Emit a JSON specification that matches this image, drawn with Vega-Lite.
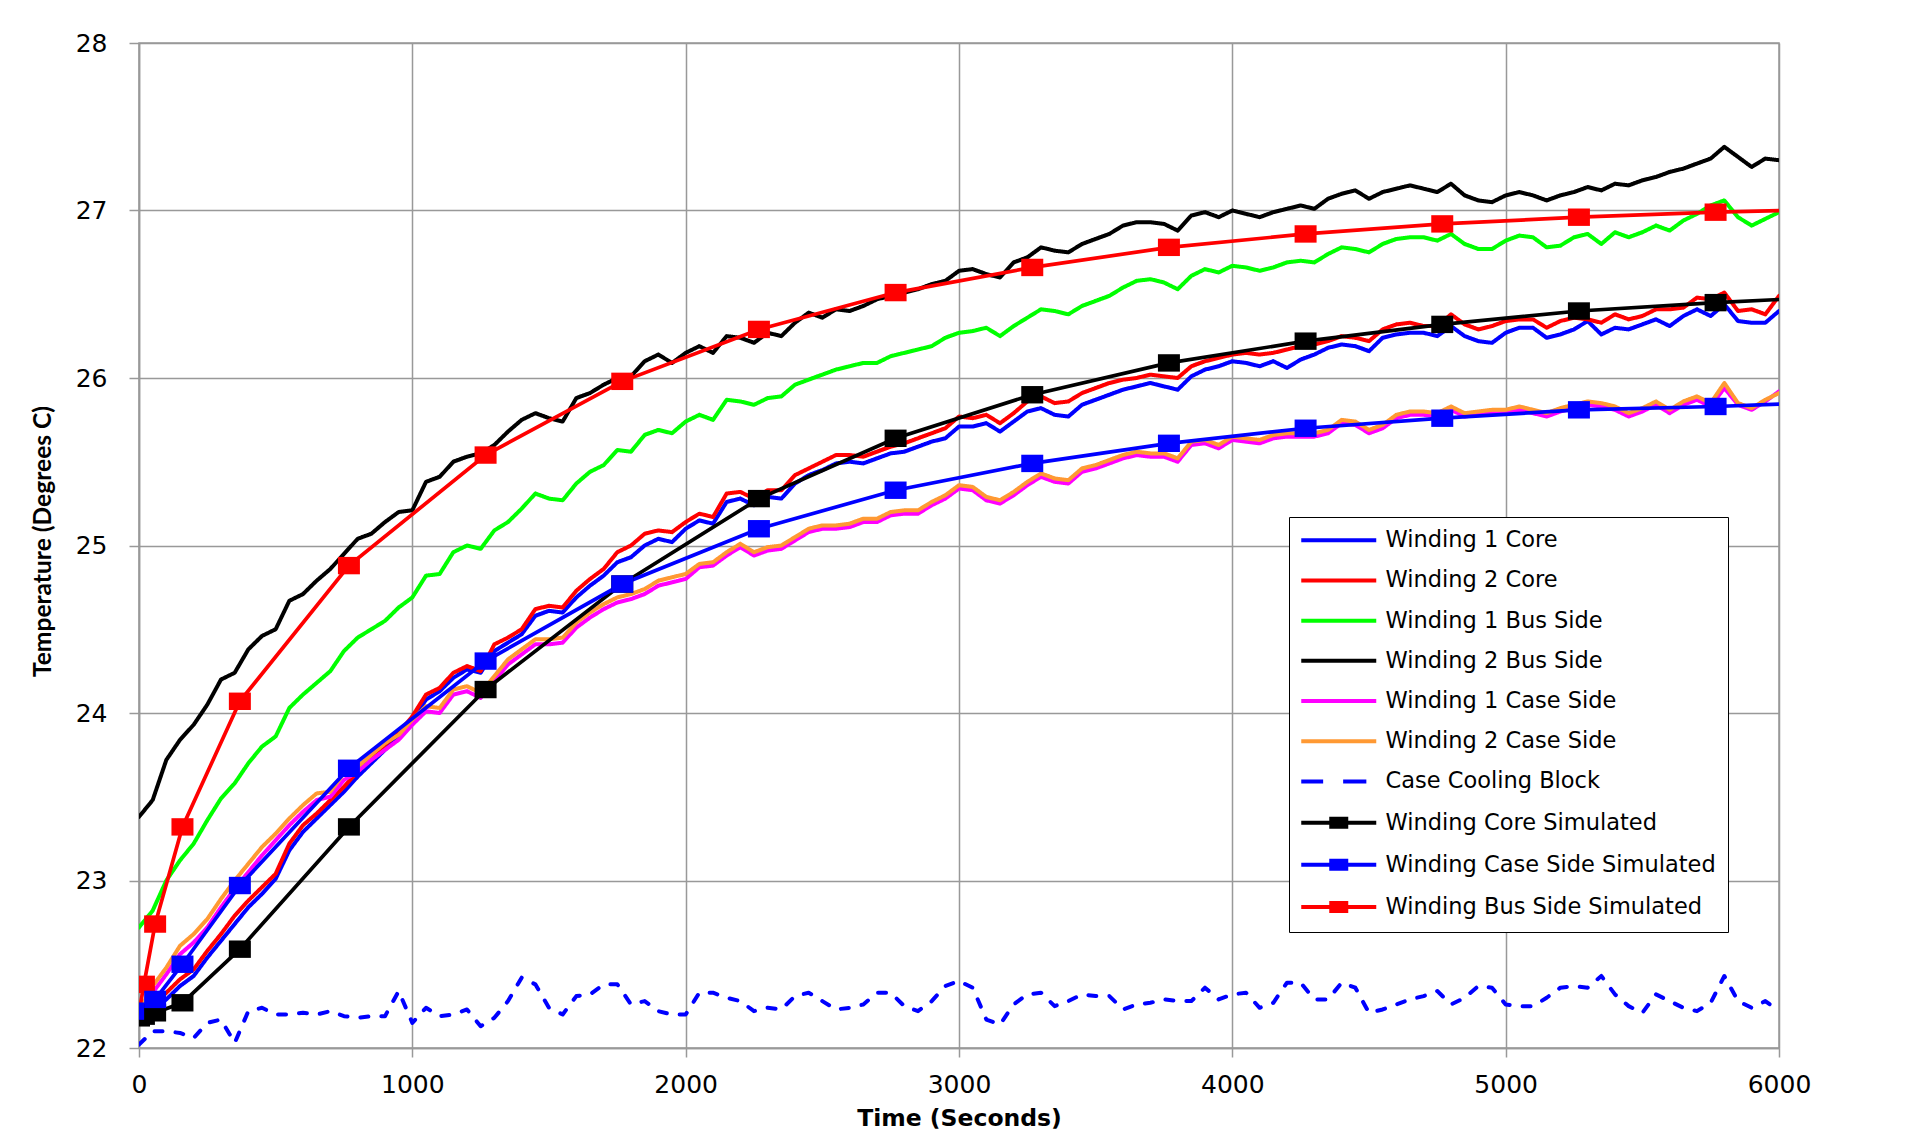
{
"$schema": "https://vega.github.io/schema/vega-lite/v6.json",
"width": 1640, "height": 1005,
"autosize": {"type": "none"},
"padding": {"left": 139, "top": 43, "right": 142, "bottom": 85},
"background": "#ffffff",
"config": {
  "view": {"stroke": "#999999", "strokeWidth": 1.5},
  "axis": {"gridColor": "#999999", "gridWidth": 1.5, "domainColor": "#999999", "domainWidth": 1.5, "tickColor": "#999999", "tickWidth": 1.5, "labelFont": "DejaVu Sans", "labelFontSize": 25, "labelColor": "#000000", "titleColor": "#000000", "labelFlush": false, "labelOverlap": false}
},
"datasets": {
"measured": [
{"t":0,"W1Core":22.20,"W2Core":22.22,"W1Bus":22.72,"W2Bus":23.38,"W1Case":22.20,"W2Case":22.22,"Cooling":22.02},
{"t":50,"W1Core":22.23,"W2Core":22.26,"W1Bus":22.82,"W2Bus":23.48,"W1Case":22.33,"W2Case":22.37,"Cooling":22.10},
{"t":100,"W1Core":22.29,"W2Core":22.33,"W1Bus":23.00,"W2Bus":23.72,"W1Case":22.44,"W2Case":22.48,"Cooling":22.10},
{"t":150,"W1Core":22.37,"W2Core":22.41,"W1Bus":23.12,"W2Bus":23.84,"W1Case":22.56,"W2Case":22.61,"Cooling":22.09},
{"t":200,"W1Core":22.43,"W2Core":22.47,"W1Bus":23.22,"W2Bus":23.93,"W1Case":22.63,"W2Case":22.68,"Cooling":22.06},
{"t":250,"W1Core":22.54,"W2Core":22.58,"W1Bus":23.36,"W2Bus":24.05,"W1Case":22.72,"W2Case":22.77,"Cooling":22.15},
{"t":300,"W1Core":22.64,"W2Core":22.68,"W1Bus":23.49,"W2Bus":24.20,"W1Case":22.84,"W2Case":22.89,"Cooling":22.17},
{"t":350,"W1Core":22.74,"W2Core":22.79,"W1Bus":23.58,"W2Bus":24.24,"W1Case":22.95,"W2Case":23.00,"Cooling":22.03},
{"t":400,"W1Core":22.84,"W2Core":22.88,"W1Bus":23.70,"W2Bus":24.38,"W1Case":23.05,"W2Case":23.10,"Cooling":22.22},
{"t":450,"W1Core":22.92,"W2Core":22.96,"W1Bus":23.80,"W2Bus":24.46,"W1Case":23.15,"W2Case":23.20,"Cooling":22.24},
{"t":500,"W1Core":23.01,"W2Core":23.04,"W1Bus":23.86,"W2Bus":24.50,"W1Case":23.24,"W2Case":23.28,"Cooling":22.20},
{"t":550,"W1Core":23.18,"W2Core":23.22,"W1Bus":24.03,"W2Bus":24.67,"W1Case":23.33,"W2Case":23.37,"Cooling":22.20},
{"t":600,"W1Core":23.29,"W2Core":23.33,"W1Bus":24.11,"W2Bus":24.71,"W1Case":23.41,"W2Case":23.45,"Cooling":22.21},
{"t":650,"W1Core":23.37,"W2Core":23.40,"W1Bus":24.18,"W2Bus":24.79,"W1Case":23.48,"W2Case":23.52,"Cooling":22.20},
{"t":700,"W1Core":23.45,"W2Core":23.48,"W1Bus":24.25,"W2Bus":24.86,"W1Case":23.50,"W2Case":23.53,"Cooling":22.22},
{"t":750,"W1Core":23.53,"W2Core":23.56,"W1Bus":24.37,"W2Bus":24.95,"W1Case":23.60,"W2Case":23.64,"Cooling":22.19},
{"t":800,"W1Core":23.62,"W2Core":23.65,"W1Bus":24.45,"W2Bus":25.04,"W1Case":23.65,"W2Case":23.68,"Cooling":22.18},
{"t":850,"W1Core":23.70,"W2Core":23.73,"W1Bus":24.50,"W2Bus":25.07,"W1Case":23.72,"W2Case":23.75,"Cooling":22.19},
{"t":900,"W1Core":23.78,"W2Core":23.81,"W1Bus":24.55,"W2Bus":25.14,"W1Case":23.78,"W2Case":23.82,"Cooling":22.19},
{"t":950,"W1Core":23.86,"W2Core":23.88,"W1Bus":24.63,"W2Bus":25.20,"W1Case":23.84,"W2Case":23.87,"Cooling":22.34},
{"t":1000,"W1Core":23.96,"W2Core":23.98,"W1Bus":24.69,"W2Bus":25.21,"W1Case":23.93,"W2Case":23.96,"Cooling":22.15},
{"t":1050,"W1Core":24.08,"W2Core":24.11,"W1Bus":24.82,"W2Bus":25.38,"W1Case":24.01,"W2Case":24.04,"Cooling":22.24},
{"t":1100,"W1Core":24.13,"W2Core":24.15,"W1Bus":24.83,"W2Bus":25.41,"W1Case":24.00,"W2Case":24.03,"Cooling":22.19},
{"t":1150,"W1Core":24.21,"W2Core":24.24,"W1Bus":24.96,"W2Bus":25.50,"W1Case":24.11,"W2Case":24.14,"Cooling":22.20},
{"t":1200,"W1Core":24.26,"W2Core":24.28,"W1Bus":25.00,"W2Bus":25.53,"W1Case":24.13,"W2Case":24.16,"Cooling":22.23},
{"t":1250,"W1Core":24.24,"W2Core":24.25,"W1Bus":24.98,"W2Bus":25.55,"W1Case":24.09,"W2Case":24.12,"Cooling":22.13},
{"t":1300,"W1Core":24.37,"W2Core":24.41,"W1Bus":25.09,"W2Bus":25.60,"W1Case":24.19,"W2Case":24.22,"Cooling":22.18},
{"t":1350,"W1Core":24.42,"W2Core":24.45,"W1Bus":25.14,"W2Bus":25.68,"W1Case":24.29,"W2Case":24.32,"Cooling":22.28},
{"t":1400,"W1Core":24.47,"W2Core":24.50,"W1Bus":25.22,"W2Bus":25.75,"W1Case":24.35,"W2Case":24.38,"Cooling":22.42},
{"t":1450,"W1Core":24.58,"W2Core":24.62,"W1Bus":25.31,"W2Bus":25.79,"W1Case":24.41,"W2Case":24.44,"Cooling":22.38},
{"t":1500,"W1Core":24.61,"W2Core":24.64,"W1Bus":25.28,"W2Bus":25.76,"W1Case":24.41,"W2Case":24.44,"Cooling":22.24},
{"t":1550,"W1Core":24.60,"W2Core":24.63,"W1Bus":25.27,"W2Bus":25.74,"W1Case":24.42,"W2Case":24.45,"Cooling":22.20},
{"t":1600,"W1Core":24.69,"W2Core":24.73,"W1Bus":25.37,"W2Bus":25.88,"W1Case":24.51,"W2Case":24.54,"Cooling":22.31},
{"t":1650,"W1Core":24.76,"W2Core":24.80,"W1Bus":25.44,"W2Bus":25.91,"W1Case":24.57,"W2Case":24.60,"Cooling":22.32},
{"t":1700,"W1Core":24.82,"W2Core":24.86,"W1Bus":25.48,"W2Bus":25.96,"W1Case":24.62,"W2Case":24.65,"Cooling":22.38},
{"t":1750,"W1Core":24.90,"W2Core":24.96,"W1Bus":25.57,"W2Bus":26.00,"W1Case":24.66,"W2Case":24.69,"Cooling":22.38},
{"t":1800,"W1Core":24.93,"W2Core":25.00,"W1Bus":25.56,"W2Bus":26.01,"W1Case":24.68,"W2Case":24.71,"Cooling":22.26},
{"t":1850,"W1Core":25.00,"W2Core":25.07,"W1Bus":25.66,"W2Bus":26.10,"W1Case":24.71,"W2Case":24.74,"Cooling":22.28},
{"t":1900,"W1Core":25.04,"W2Core":25.09,"W1Bus":25.69,"W2Bus":26.14,"W1Case":24.76,"W2Case":24.79,"Cooling":22.22},
{"t":1950,"W1Core":25.02,"W2Core":25.08,"W1Bus":25.67,"W2Bus":26.09,"W1Case":24.78,"W2Case":24.81,"Cooling":22.20},
{"t":2000,"W1Core":25.10,"W2Core":25.14,"W1Bus":25.74,"W2Bus":26.15,"W1Case":24.80,"W2Case":24.83,"Cooling":22.20},
{"t":2050,"W1Core":25.15,"W2Core":25.19,"W1Bus":25.78,"W2Bus":26.19,"W1Case":24.87,"W2Case":24.89,"Cooling":22.33},
{"t":2100,"W1Core":25.13,"W2Core":25.17,"W1Bus":25.75,"W2Bus":26.15,"W1Case":24.88,"W2Case":24.90,"Cooling":22.33},
{"t":2150,"W1Core":25.26,"W2Core":25.31,"W1Bus":25.87,"W2Bus":26.25,"W1Case":24.94,"W2Case":24.96,"Cooling":22.30},
{"t":2200,"W1Core":25.28,"W2Core":25.32,"W1Bus":25.86,"W2Bus":26.24,"W1Case":24.99,"W2Case":25.01,"Cooling":22.28},
{"t":2250,"W1Core":25.24,"W2Core":25.28,"W1Bus":25.84,"W2Bus":26.21,"W1Case":24.94,"W2Case":24.96,"Cooling":22.22},
{"t":2300,"W1Core":25.29,"W2Core":25.33,"W1Bus":25.88,"W2Bus":26.27,"W1Case":24.97,"W2Case":24.99,"Cooling":22.24},
{"t":2350,"W1Core":25.28,"W2Core":25.33,"W1Bus":25.89,"W2Bus":26.25,"W1Case":24.98,"W2Case":25.00,"Cooling":22.23},
{"t":2400,"W1Core":25.37,"W2Core":25.42,"W1Bus":25.96,"W2Bus":26.33,"W1Case":25.03,"W2Case":25.05,"Cooling":22.31},
{"t":2450,"W1Core":25.42,"W2Core":25.46,"W1Bus":25.99,"W2Bus":26.39,"W1Case":25.08,"W2Case":25.10,"Cooling":22.33},
{"t":2500,"W1Core":25.45,"W2Core":25.50,"W1Bus":26.02,"W2Bus":26.36,"W1Case":25.10,"W2Case":25.12,"Cooling":22.28},
{"t":2550,"W1Core":25.49,"W2Core":25.54,"W1Bus":26.05,"W2Bus":26.41,"W1Case":25.10,"W2Case":25.12,"Cooling":22.23},
{"t":2600,"W1Core":25.50,"W2Core":25.54,"W1Bus":26.07,"W2Bus":26.40,"W1Case":25.11,"W2Case":25.13,"Cooling":22.24},
{"t":2650,"W1Core":25.49,"W2Core":25.53,"W1Bus":26.09,"W2Bus":26.43,"W1Case":25.14,"W2Case":25.16,"Cooling":22.26},
{"t":2700,"W1Core":25.52,"W2Core":25.56,"W1Bus":26.09,"W2Bus":26.47,"W1Case":25.14,"W2Case":25.16,"Cooling":22.33},
{"t":2750,"W1Core":25.55,"W2Core":25.59,"W1Bus":26.13,"W2Bus":26.49,"W1Case":25.18,"W2Case":25.20,"Cooling":22.33},
{"t":2800,"W1Core":25.56,"W2Core":25.61,"W1Bus":26.15,"W2Bus":26.51,"W1Case":25.19,"W2Case":25.21,"Cooling":22.25},
{"t":2850,"W1Core":25.59,"W2Core":25.64,"W1Bus":26.17,"W2Bus":26.53,"W1Case":25.19,"W2Case":25.21,"Cooling":22.22},
{"t":2900,"W1Core":25.62,"W2Core":25.67,"W1Bus":26.19,"W2Bus":26.56,"W1Case":25.24,"W2Case":25.26,"Cooling":22.28},
{"t":2950,"W1Core":25.64,"W2Core":25.70,"W1Bus":26.24,"W2Bus":26.58,"W1Case":25.28,"W2Case":25.30,"Cooling":22.37},
{"t":3000,"W1Core":25.71,"W2Core":25.77,"W1Bus":26.27,"W2Bus":26.64,"W1Case":25.34,"W2Case":25.36,"Cooling":22.40},
{"t":3050,"W1Core":25.71,"W2Core":25.76,"W1Bus":26.28,"W2Bus":26.65,"W1Case":25.33,"W2Case":25.35,"Cooling":22.36},
{"t":3100,"W1Core":25.73,"W2Core":25.78,"W1Bus":26.30,"W2Bus":26.62,"W1Case":25.27,"W2Case":25.29,"Cooling":22.17},
{"t":3150,"W1Core":25.68,"W2Core":25.73,"W1Bus":26.25,"W2Bus":26.60,"W1Case":25.25,"W2Case":25.27,"Cooling":22.14},
{"t":3200,"W1Core":25.74,"W2Core":25.79,"W1Bus":26.31,"W2Bus":26.69,"W1Case":25.30,"W2Case":25.32,"Cooling":22.26},
{"t":3250,"W1Core":25.80,"W2Core":25.86,"W1Bus":26.36,"W2Bus":26.72,"W1Case":25.36,"W2Case":25.38,"Cooling":22.32},
{"t":3300,"W1Core":25.82,"W2Core":25.89,"W1Bus":26.41,"W2Bus":26.78,"W1Case":25.41,"W2Case":25.43,"Cooling":22.33},
{"t":3350,"W1Core":25.78,"W2Core":25.85,"W1Bus":26.40,"W2Bus":26.76,"W1Case":25.38,"W2Case":25.40,"Cooling":22.25},
{"t":3400,"W1Core":25.77,"W2Core":25.86,"W1Bus":26.38,"W2Bus":26.75,"W1Case":25.37,"W2Case":25.39,"Cooling":22.28},
{"t":3450,"W1Core":25.84,"W2Core":25.91,"W1Bus":26.43,"W2Bus":26.80,"W1Case":25.44,"W2Case":25.46,"Cooling":22.32},
{"t":3500,"W1Core":25.87,"W2Core":25.94,"W1Bus":26.46,"W2Bus":26.83,"W1Case":25.46,"W2Case":25.48,"Cooling":22.31},
{"t":3550,"W1Core":25.90,"W2Core":25.97,"W1Bus":26.49,"W2Bus":26.86,"W1Case":25.49,"W2Case":25.51,"Cooling":22.31},
{"t":3600,"W1Core":25.93,"W2Core":25.99,"W1Bus":26.54,"W2Bus":26.91,"W1Case":25.52,"W2Case":25.54,"Cooling":22.23},
{"t":3650,"W1Core":25.95,"W2Core":26.00,"W1Bus":26.58,"W2Bus":26.93,"W1Case":25.54,"W2Case":25.56,"Cooling":22.26},
{"t":3700,"W1Core":25.97,"W2Core":26.02,"W1Bus":26.59,"W2Bus":26.93,"W1Case":25.53,"W2Case":25.55,"Cooling":22.27},
{"t":3750,"W1Core":25.95,"W2Core":26.01,"W1Bus":26.57,"W2Bus":26.92,"W1Case":25.53,"W2Case":25.55,"Cooling":22.29},
{"t":3800,"W1Core":25.93,"W2Core":26.00,"W1Bus":26.53,"W2Bus":26.88,"W1Case":25.50,"W2Case":25.52,"Cooling":22.28},
{"t":3850,"W1Core":26.01,"W2Core":26.07,"W1Bus":26.61,"W2Bus":26.97,"W1Case":25.60,"W2Case":25.62,"Cooling":22.28},
{"t":3900,"W1Core":26.05,"W2Core":26.10,"W1Bus":26.65,"W2Bus":26.99,"W1Case":25.61,"W2Case":25.63,"Cooling":22.36},
{"t":3950,"W1Core":26.07,"W2Core":26.12,"W1Bus":26.63,"W2Bus":26.96,"W1Case":25.58,"W2Case":25.60,"Cooling":22.29},
{"t":4000,"W1Core":26.10,"W2Core":26.14,"W1Bus":26.67,"W2Bus":27.00,"W1Case":25.63,"W2Case":25.65,"Cooling":22.32},
{"t":4050,"W1Core":26.09,"W2Core":26.15,"W1Bus":26.66,"W2Bus":26.98,"W1Case":25.62,"W2Case":25.64,"Cooling":22.33},
{"t":4100,"W1Core":26.07,"W2Core":26.14,"W1Bus":26.64,"W2Bus":26.96,"W1Case":25.61,"W2Case":25.63,"Cooling":22.24},
{"t":4150,"W1Core":26.10,"W2Core":26.15,"W1Bus":26.66,"W2Bus":26.99,"W1Case":25.64,"W2Case":25.66,"Cooling":22.27},
{"t":4200,"W1Core":26.06,"W2Core":26.17,"W1Bus":26.69,"W2Bus":27.01,"W1Case":25.65,"W2Case":25.67,"Cooling":22.39},
{"t":4250,"W1Core":26.11,"W2Core":26.19,"W1Bus":26.70,"W2Bus":27.03,"W1Case":25.65,"W2Case":25.67,"Cooling":22.39},
{"t":4300,"W1Core":26.14,"W2Core":26.20,"W1Bus":26.69,"W2Bus":27.01,"W1Case":25.65,"W2Case":25.67,"Cooling":22.29},
{"t":4350,"W1Core":26.18,"W2Core":26.22,"W1Bus":26.74,"W2Bus":27.07,"W1Case":25.67,"W2Case":25.69,"Cooling":22.29},
{"t":4400,"W1Core":26.20,"W2Core":26.25,"W1Bus":26.78,"W2Bus":27.10,"W1Case":25.73,"W2Case":25.75,"Cooling":22.39},
{"t":4450,"W1Core":26.19,"W2Core":26.24,"W1Bus":26.77,"W2Bus":27.12,"W1Case":25.72,"W2Case":25.74,"Cooling":22.36},
{"t":4500,"W1Core":26.16,"W2Core":26.22,"W1Bus":26.75,"W2Bus":27.07,"W1Case":25.67,"W2Case":25.69,"Cooling":22.21},
{"t":4550,"W1Core":26.24,"W2Core":26.29,"W1Bus":26.80,"W2Bus":27.11,"W1Case":25.70,"W2Case":25.72,"Cooling":22.23},
{"t":4600,"W1Core":26.26,"W2Core":26.32,"W1Bus":26.83,"W2Bus":27.13,"W1Case":25.76,"W2Case":25.78,"Cooling":22.26},
{"t":4650,"W1Core":26.27,"W2Core":26.33,"W1Bus":26.84,"W2Bus":27.15,"W1Case":25.78,"W2Case":25.80,"Cooling":22.29},
{"t":4700,"W1Core":26.27,"W2Core":26.31,"W1Bus":26.84,"W2Bus":27.13,"W1Case":25.78,"W2Case":25.80,"Cooling":22.31},
{"t":4750,"W1Core":26.25,"W2Core":26.31,"W1Bus":26.82,"W2Bus":27.11,"W1Case":25.77,"W2Case":25.79,"Cooling":22.34},
{"t":4800,"W1Core":26.31,"W2Core":26.38,"W1Bus":26.86,"W2Bus":27.16,"W1Case":25.81,"W2Case":25.83,"Cooling":22.26},
{"t":4850,"W1Core":26.25,"W2Core":26.32,"W1Bus":26.80,"W2Bus":27.09,"W1Case":25.77,"W2Case":25.79,"Cooling":22.30},
{"t":4900,"W1Core":26.22,"W2Core":26.29,"W1Bus":26.77,"W2Bus":27.06,"W1Case":25.78,"W2Case":25.80,"Cooling":22.37},
{"t":4950,"W1Core":26.21,"W2Core":26.31,"W1Bus":26.77,"W2Bus":27.05,"W1Case":25.79,"W2Case":25.81,"Cooling":22.36},
{"t":5000,"W1Core":26.27,"W2Core":26.34,"W1Bus":26.82,"W2Bus":27.09,"W1Case":25.79,"W2Case":25.81,"Cooling":22.26},
{"t":5050,"W1Core":26.30,"W2Core":26.35,"W1Bus":26.85,"W2Bus":27.11,"W1Case":25.81,"W2Case":25.83,"Cooling":22.25},
{"t":5100,"W1Core":26.30,"W2Core":26.35,"W1Bus":26.84,"W2Bus":27.09,"W1Case":25.79,"W2Case":25.81,"Cooling":22.25},
{"t":5150,"W1Core":26.24,"W2Core":26.30,"W1Bus":26.78,"W2Bus":27.06,"W1Case":25.77,"W2Case":25.79,"Cooling":22.30},
{"t":5200,"W1Core":26.26,"W2Core":26.34,"W1Bus":26.79,"W2Bus":27.09,"W1Case":25.80,"W2Case":25.82,"Cooling":22.36},
{"t":5250,"W1Core":26.29,"W2Core":26.36,"W1Bus":26.84,"W2Bus":27.11,"W1Case":25.82,"W2Case":25.84,"Cooling":22.37},
{"t":5300,"W1Core":26.34,"W2Core":26.35,"W1Bus":26.86,"W2Bus":27.14,"W1Case":25.84,"W2Case":25.86,"Cooling":22.36},
{"t":5350,"W1Core":26.26,"W2Core":26.33,"W1Bus":26.80,"W2Bus":27.12,"W1Case":25.83,"W2Case":25.85,"Cooling":22.43},
{"t":5400,"W1Core":26.30,"W2Core":26.38,"W1Bus":26.87,"W2Bus":27.16,"W1Case":25.81,"W2Case":25.83,"Cooling":22.32},
{"t":5450,"W1Core":26.29,"W2Core":26.35,"W1Bus":26.84,"W2Bus":27.15,"W1Case":25.77,"W2Case":25.79,"Cooling":22.25},
{"t":5500,"W1Core":26.32,"W2Core":26.37,"W1Bus":26.87,"W2Bus":27.18,"W1Case":25.80,"W2Case":25.82,"Cooling":22.21},
{"t":5550,"W1Core":26.35,"W2Core":26.41,"W1Bus":26.91,"W2Bus":27.20,"W1Case":25.84,"W2Case":25.86,"Cooling":22.32},
{"t":5600,"W1Core":26.31,"W2Core":26.41,"W1Bus":26.88,"W2Bus":27.23,"W1Case":25.79,"W2Case":25.81,"Cooling":22.28},
{"t":5650,"W1Core":26.37,"W2Core":26.42,"W1Bus":26.94,"W2Bus":27.25,"W1Case":25.84,"W2Case":25.86,"Cooling":22.24},
{"t":5700,"W1Core":26.41,"W2Core":26.48,"W1Bus":26.98,"W2Bus":27.28,"W1Case":25.87,"W2Case":25.89,"Cooling":22.22},
{"t":5750,"W1Core":26.37,"W2Core":26.47,"W1Bus":27.03,"W2Bus":27.31,"W1Case":25.83,"W2Case":25.85,"Cooling":22.27},
{"t":5800,"W1Core":26.44,"W2Core":26.51,"W1Bus":27.06,"W2Bus":27.38,"W1Case":25.94,"W2Case":25.97,"Cooling":22.43},
{"t":5850,"W1Core":26.34,"W2Core":26.40,"W1Bus":26.96,"W2Bus":27.32,"W1Case":25.84,"W2Case":25.85,"Cooling":22.28},
{"t":5900,"W1Core":26.33,"W2Core":26.41,"W1Bus":26.91,"W2Bus":27.26,"W1Case":25.81,"W2Case":25.82,"Cooling":22.24},
{"t":5950,"W1Core":26.33,"W2Core":26.38,"W1Bus":26.95,"W2Bus":27.31,"W1Case":25.86,"W2Case":25.87,"Cooling":22.28},
{"t":6000,"W1Core":26.40,"W2Core":26.49,"W1Bus":26.99,"W2Bus":27.30,"W1Case":25.92,"W2Case":25.91,"Cooling":22.22}
],
"sim": [
{"t":0,"CoreSim":22.18,"CaseSim":22.20,"BusSim":22.21},
{"t":18,"CoreSim":22.19,"CaseSim":22.22,"BusSim":22.38},
{"t":59,"CoreSim":22.21,"CaseSim":22.29,"BusSim":22.74},
{"t":159,"CoreSim":22.27,"CaseSim":22.50,"BusSim":23.32},
{"t":369,"CoreSim":22.59,"CaseSim":22.97,"BusSim":24.07},
{"t":768,"CoreSim":23.32,"CaseSim":23.67,"BusSim":24.88},
{"t":1268,"CoreSim":24.14,"CaseSim":24.31,"BusSim":25.54},
{"t":1768,"CoreSim":24.77,"CaseSim":24.77,"BusSim":25.98},
{"t":2268,"CoreSim":25.28,"CaseSim":25.10,"BusSim":26.29},
{"t":2768,"CoreSim":25.64,"CaseSim":25.33,"BusSim":26.51},
{"t":3268,"CoreSim":25.90,"CaseSim":25.49,"BusSim":26.66},
{"t":3768,"CoreSim":26.09,"CaseSim":25.61,"BusSim":26.78},
{"t":4268,"CoreSim":26.22,"CaseSim":25.70,"BusSim":26.86},
{"t":4768,"CoreSim":26.32,"CaseSim":25.76,"BusSim":26.92},
{"t":5268,"CoreSim":26.40,"CaseSim":25.81,"BusSim":26.96},
{"t":5768,"CoreSim":26.45,"CaseSim":25.83,"BusSim":26.99},
{"t":6268,"CoreSim":26.49,"CaseSim":25.86,"BusSim":27.01}
]
},
"resolve": {"scale": {"color": "independent", "strokeDash": "independent", "shape": "independent"}},
"layer": [
{
  "data": {"name": "measured"},
  "transform": [{"fold": ["W1Core","W2Core","W1Bus","W2Bus","W1Case","W2Case","Cooling"], "as": ["series","temp"]}],
  "mark": {"type": "line", "strokeWidth": 4, "strokeCap": "round", "strokeJoin": "round", "clip": true},
  "encoding": {
    "x": {"field": "t", "type": "quantitative", "scale": {"domain": [0, 6000], "nice": false},
      "axis": {"values": [0,1000,2000,3000,4000,5000,6000], "format": "d", "title": "Time (Seconds)", "titleFont": "DejaVu Sans", "titleFontWeight": "bold", "titleFontSize": 23.5, "titleY": 70, "titleBaseline": "middle", "tickSize": 9, "labelPadding": 15, "grid": true}},
    "y": {"field": "temp", "type": "quantitative", "scale": {"domain": [22, 28], "nice": false, "zero": false},
      "axis": {"values": [22,23,24,25,26,27,28], "format": "d", "title": "Temperature (Degrees C)", "titleFont": "Lato", "titleFontWeight": "bold", "titleFontSize": 24.6, "titleX": -96, "titleY": 498, "titleAngle": -90, "titleAlign": "center", "titleBaseline": "middle", "tickSize": 10, "labelPadding": 22, "grid": true}},
    "color": {"field": "series", "type": "nominal",
      "scale": {"domain": ["W1Core","W2Core","W1Bus","W2Bus","W1Case","W2Case","Cooling"], "range": ["#0000FF","#FF0000","#00FF00","#000000","#FF00FF","#FF9933","#0000FF"]}, "legend": null},
    "strokeDash": {"field": "series", "type": "nominal",
      "scale": {"domain": ["W1Core","W2Core","W1Bus","W2Bus","W1Case","W2Case","Cooling"], "range": [[1,0],[1,0],[1,0],[1,0],[1,0],[1,0],[8,13]]}, "legend": null}
  }
},
{
  "data": {"name": "sim"},
  "transform": [{"fold": ["CoreSim","CaseSim","BusSim"], "as": ["series","temp"]}],
  "mark": {"type": "line", "strokeWidth": 3.7, "clip": true, "point": {"shape": "M-1.1,-0.87H1.1V0.87H-1.1Z", "size": 400, "filled": true, "clip": true}},
  "encoding": {
    "x": {"field": "t", "type": "quantitative"},
    "y": {"field": "temp", "type": "quantitative"},
    "color": {"field": "series", "type": "nominal",
      "scale": {"domain": ["CoreSim","CaseSim","BusSim"], "range": ["#000000","#0000FF","#FF0000"]}, "legend": null}
  }
},
{
  "data": {"values": []},
  "mark": {"type": "point", "filled": false, "size": 64, "strokeWidth": 4},
  "encoding": {
    "color": {"field": "series", "type": "nominal",
      "scale": {"domain": ["Winding 1 Core","Winding 2 Core","Winding 1 Bus Side","Winding 2 Bus Side","Winding 1 Case Side","Winding 2 Case Side","Case Cooling Block","Winding Core Simulated","Winding Case Side Simulated","Winding Bus Side Simulated"],
        "range": ["#0000FF","#FF0000","#00FF00","#000000","#FF00FF","#FF9933","#0000FF","#000000","#0000FF","#FF0000"]},
      "legend": {"title": null, "orient": "none", "legendX": 1150, "legendY": 474, "direction": "vertical", "labelFont": "DejaVu Sans", "labelFontSize": 22.5, "labelColor": "#000000", "labelLimit": 600, "symbolSize": 64, "symbolStrokeWidth": 4, "symbolOffset": 26.5, "labelOffset": 35.5, "rowPadding": 17.2, "padding": 12, "strokeColor": "#000000", "fillColor": "#ffffff", "symbolOpacity": 1,
        "encode": {"legend": {"update": {"strokeWidth": {"value": 2}}}}}},
    "shape": {"field": "series", "type": "nominal",
      "scale": {"domain": ["Winding 1 Core","Winding 2 Core","Winding 1 Bus Side","Winding 2 Bus Side","Winding 1 Case Side","Winding 2 Case Side","Case Cooling Block","Winding Core Simulated","Winding Case Side Simulated","Winding Bus Side Simulated"],
        "range": ["M-9.375,0H9.375","M-9.375,0H9.375","M-9.375,0H9.375","M-9.375,0H9.375","M-9.375,0H9.375","M-9.375,0H9.375","M-9.375,0H-3.9M1.1,0H6.9",
          "M-9.375,0H9.375M-2.375,-1H2.375M-2.375,-0.5H2.375M-2.375,0H2.375M-2.375,0.5H2.375M-2.375,1H2.375",
          "M-9.375,0H9.375M-2.375,-1H2.375M-2.375,-0.5H2.375M-2.375,0H2.375M-2.375,0.5H2.375M-2.375,1H2.375",
          "M-9.375,0H9.375M-2.375,-1H2.375M-2.375,-0.5H2.375M-2.375,0H2.375M-2.375,0.5H2.375M-2.375,1H2.375"]}}
  }
}
]
}
